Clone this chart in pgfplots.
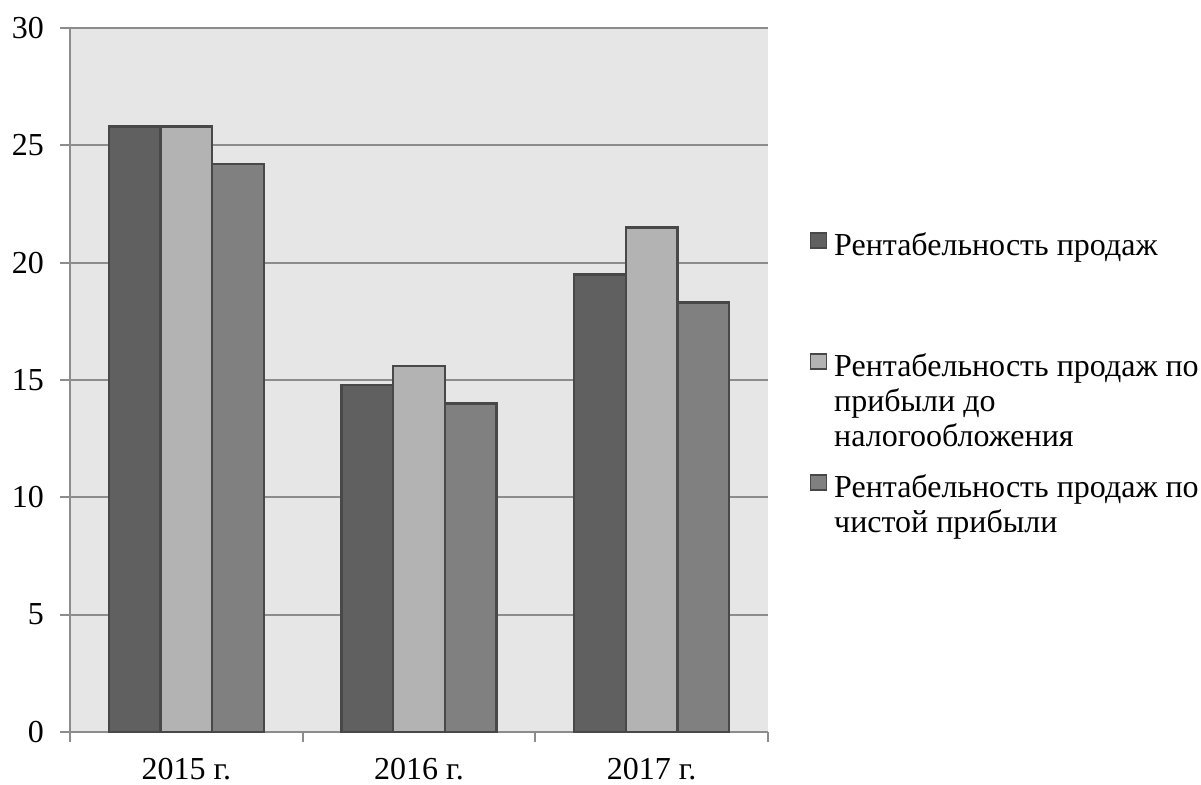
\documentclass[border=0pt]{standalone}
\usepackage{pgfplots}
\pgfplotsset{compat=1.18}
\usepackage{fontspec}
\setmainfont{Liberation Serif}
\definecolor{cA}{RGB}{96,96,96}
\definecolor{cB}{RGB}{179,179,179}
\definecolor{cC}{RGB}{128,128,128}
\definecolor{bg}{RGB}{230,230,230}
\definecolor{edge}{RGB}{72,72,72}
\definecolor{gridc}{RGB}{140,140,140}
\newcommand{\lent}[2]{\parbox[b][#1][t]{200pt}{\strut #2}}
\begin{document}
\begin{tikzpicture}
\path[use as bounding box] (-35pt,-26pt) rectangle (565.5pt,366pt);
\begin{axis}[
  at={(0pt,0pt)}, anchor=south west,
  scale only axis, width=349pt, height=352pt,
  ybar=0pt, bar width=0.222,
  xmin=-0.5, xmax=2.5, ymin=0, ymax=30,
  ytick={0,5,...,30},
  xtick={0,1,2},
  xticklabels={2015 г.,2016 г.,2017 г.},
  xtick style={draw=none},
  extra x ticks={-0.5,0.5,1.5,2.5},
  extra x tick labels={},
  extra x tick style={xtick style={draw=gridc,line width=1pt}, major tick length=5pt},
  tick align=outside,
  major tick length=5pt,
  ytick style={draw=gridc,line width=1pt},
  ymajorgrids, grid style={draw=gridc,line width=1pt},
  axis line style={draw=gridc,line width=1pt},
  axis x line*=bottom, axis y line*=left,
  axis background/.style={fill=bg},
  tick label style={font=\fontsize{16}{18}\selectfont},
  /pgf/number format/assume math mode=true,
  xticklabel style={yshift=-4.5pt},
  yticklabel style={xshift=-4.5pt},
  legend cell align=left,
  legend style={at={(axis description cs:1,1)}, anchor=north west, xshift=21pt, yshift=-99.25pt,
    draw=none, fill=none, inner sep=0pt, outer sep=0pt,
    font=\fontsize{16}{17.5}\selectfont,
    cells={anchor=north west, inner sep=0pt}, row sep=0pt, column sep=1.5pt},
  legend image code/.code={\path[draw=none,fill=none] (0pt,0pt) -- (8pt,0pt);
     \draw[#1, draw=edge, line width=0.6pt] (0pt,-10.75pt) rectangle (8pt,-3.25pt);},
  every axis plot/.append style={draw=edge, line width=1.1pt},
]
\addplot[fill=cA] coordinates {(0,25.8) (1,14.8) (2,19.5)};
\addplot[fill=cB] coordinates {(0,25.8) (1,15.6) (2,21.5)};
\addplot[fill=cC] coordinates {(0,24.2) (1,14.0) (2,18.3)};
\legend{\lent{55pt}{Рентабельность продаж},
        \lent{55pt}{Рентабельность продаж по\\прибыли до\\налогообложения},
        \lent{40pt}{Рентабельность продаж по\\чистой прибыли}}
\end{axis}
\end{tikzpicture}
\end{document}
